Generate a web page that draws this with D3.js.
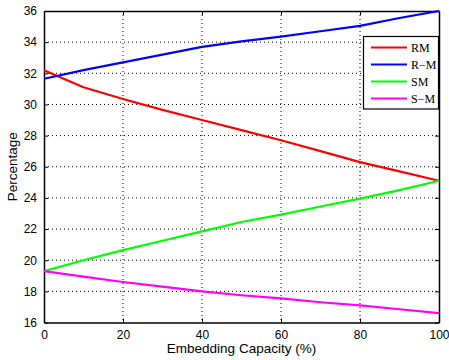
<!DOCTYPE html>
<html><head><meta charset="utf-8">
<script src="https://cdn.jsdelivr.net/npm/d3@7"></script>
<style>
html,body{margin:0;padding:0;background:#fff;}
svg{display:block;}
</style></head>
<body>
<svg id="chart" width="449" height="360"></svg>
<script>
const capacity = [0, 10, 20, 30, 40, 50, 60, 70, 80, 90, 100];
const rm  = [32.2, 31.1, 30.35, 29.65, 29.0, 28.35, 27.7, 27.0, 26.3, 25.7, 25.1];
const r_m = [31.65, 32.2, 32.7, 33.2, 33.7, 34.05, 34.35, 34.7, 35.05, 35.55, 36.0];
const sm  = [19.3, 20.0, 20.65, 21.25, 21.85, 22.45, 22.93, 23.45, 23.95, 24.5, 25.1];
const s_m = [19.3, 18.95, 18.6, 18.3, 18.0, 17.75, 17.55, 17.3, 17.1, 16.85, 16.6];
const seriesNames = ["RM", "R\u2212M", "SM", "S\u2212M"];
const seriesColors = ["#ff0000", "#0000ff", "#00ff00", "#ff00ff"];
const xTicks = [0, 20, 40, 60, 80, 100];
const yTicks = [16, 18, 20, 22, 24, 26, 28, 30, 32, 34, 36];
const xLabel = "Embedding Capacity (%)";
const yLabel = "Percentage";

const series = [rm, r_m, sm, s_m].map((v, i) => ({name: seriesNames[i], color: seriesColors[i], values: v}));

const svg = d3.select("#chart");
const L = 44, R = 439, T = 11, B = 322.5;
const x = d3.scaleLinear().domain([0, 100]).range([L, R]);
const y = d3.scaleLinear().domain([16, 36]).range([B, T]);
const sans = "Helvetica, 'Liberation Sans', Arial, sans-serif";

// grid
const g = svg.append("g");
g.selectAll("line.vg").data(xTicks.slice(1, -1)).enter().append("line")
  .attr("x1", d => x(d)).attr("x2", d => x(d)).attr("y1", T).attr("y2", B)
  .attr("stroke", "#000").attr("stroke-width", 1).attr("stroke-dasharray", "1,3");
g.selectAll("line.hg").data(yTicks.slice(1, -1)).enter().append("line")
  .attr("y1", d => y(d)).attr("y2", d => y(d)).attr("x1", L).attr("x2", R)
  .attr("stroke", "#000").attr("stroke-width", 1).attr("stroke-dasharray", "1,3");

// axes (inward ticks, MATLAB style)
const fmt = d3.format("d");
const axB = svg.append("g").attr("transform", `translate(0,${B})`)
  .call(d3.axisBottom(x).tickValues(xTicks).tickFormat(fmt).tickSizeInner(-4).tickSizeOuter(0).tickPadding(8));
const axL = svg.append("g").attr("transform", `translate(${L},0)`)
  .call(d3.axisLeft(y).tickValues(yTicks).tickFormat(fmt).tickSizeInner(-4).tickSizeOuter(0).tickPadding(7));
const axT = svg.append("g").attr("transform", `translate(0,${T})`)
  .call(d3.axisTop(x).tickValues(xTicks).tickFormat("").tickSizeInner(-4).tickSizeOuter(0));
const axR = svg.append("g").attr("transform", `translate(${R},0)`)
  .call(d3.axisRight(y).tickValues(yTicks).tickFormat("").tickSizeInner(-4).tickSizeOuter(0));
[axB, axL, axT, axR].forEach(a => {
  a.select(".domain").attr("stroke", "#000").attr("stroke-width", 1.5);
  a.selectAll(".tick line").attr("stroke", "#000");
  a.selectAll("text").attr("font-family", sans).attr("font-size", 12).attr("fill", "#000");
});

// lines
const line = d3.line().x((d, i) => x(capacity[i])).y(d => y(d));
const clip = svg.append("clipPath").attr("id", "clp").append("rect")
  .attr("x", L).attr("y", T - 1).attr("width", R - L + 1).attr("height", B - T + 2);
svg.append("g").attr("clip-path", "url(#clp)").selectAll("path.s").data(series).enter().append("path")
  .attr("d", d => line(d.values)).attr("fill", "none")
  .attr("stroke", d => d.color).attr("stroke-width", 2.2).attr("stroke-linejoin", "round");

// labels
svg.append("text").attr("x", (L + R) / 2).attr("y", 353).attr("text-anchor", "middle")
  .attr("font-family", sans).attr("font-size", 13.5).text(xLabel);
svg.append("text").attr("transform", `translate(17,${(T + B) / 2}) rotate(-90)`).attr("text-anchor", "middle")
  .attr("font-family", sans).attr("font-size", 13.5).text(yLabel);

// legend
const lg = svg.append("g");
lg.append("rect").attr("x", 363.5).attr("y", 36.5).attr("width", 75).attr("height", 72.5)
  .attr("fill", "#fff").attr("stroke", "#000").attr("stroke-width", 1.2);
const ly = d3.scalePoint().domain(seriesNames).range([47.5, 98.5]);
series.forEach(s => {
  lg.append("line").attr("x1", 371).attr("x2", 407).attr("y1", ly(s.name)).attr("y2", ly(s.name))
    .attr("stroke", s.color).attr("stroke-width", 2.2);
  lg.append("text").attr("x", 411).attr("y", ly(s.name)).attr("dy", "0.35em")
    .attr("font-family", "'Liberation Serif', 'Times New Roman', serif").attr("font-size", 12).text(s.name);
});
</script>
</body></html>
